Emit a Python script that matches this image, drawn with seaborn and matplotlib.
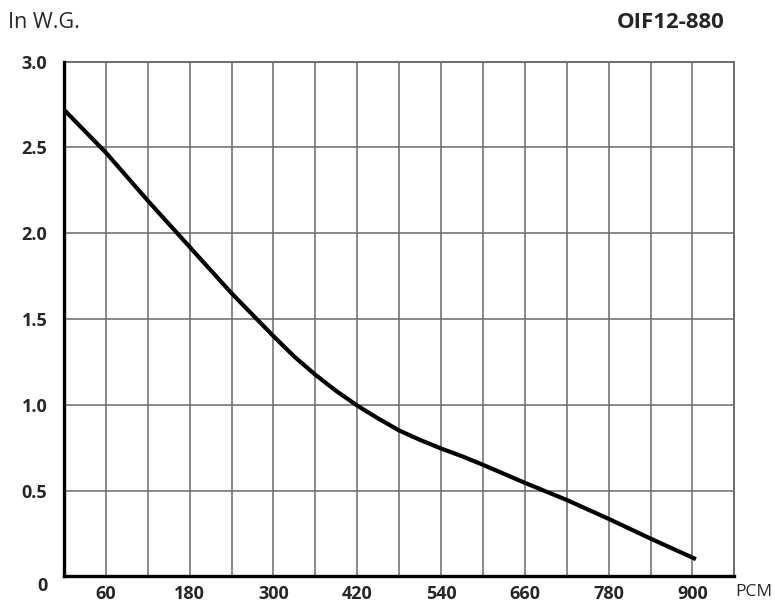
import matplotlib
matplotlib.use("Agg")
import matplotlib.pyplot as plt
import matplotlib.transforms as mtransforms
import seaborn as sns
import pandas as pd
import numpy as np


# airflow (PCM) vs static pressure (In W.G.)
airflow = [0, 60, 120, 180, 240, 276, 300, 330, 360, 390, 420, 450, 480, 510, 540,
           570, 600, 660, 720, 780, 840, 905]
pressure = [2.72, 2.47, 2.19, 1.92, 1.65, 1.50, 1.40, 1.28, 1.175, 1.08, 0.995, 0.92,
            0.85, 0.795, 0.745, 0.70, 0.65, 0.545, 0.445, 0.335, 0.22, 0.10]

x_ticks = [60, 180, 300, 420, 540, 660, 780, 900]
y_ticks = [0, 0.5, 1.0, 1.5, 2.0, 2.5, 3.0]
y_tick_labels = ["0", "0.5", "1.0", "1.5", "2.0", "2.5", "3.0"]
model_name = "OIF12-880"


def main():
    sns.set_style("white")
    plt.rcParams["font.family"] = ["Open Sans", "DejaVu Sans"]

    df = pd.DataFrame({"airflow": airflow, "pressure": pressure})

    fig = plt.figure(figsize=(7.75, 6.1), dpi=100)
    ax = fig.add_axes([64 / 775, 1 - 576.3 / 610, (734.3 - 64) / 775, (576.3 - 61.7) / 610])

    # grid every 60 PCM and every 0.5 In W.G.
    grid_col = "#6a6a6a"
    for gx in np.arange(60, 960, 60):
        ax.axvline(gx, color=grid_col, lw=1.1, zorder=1)
    for gy in np.arange(0.5, 3.0, 0.5):
        ax.axhline(gy, color=grid_col, lw=1.1, zorder=1)

    sns.lineplot(data=df, x="airflow", y="pressure", ax=ax, color="black",
                 lw=3.0, zorder=3, solid_capstyle="butt", solid_joinstyle="round")

    ax.set_xlim(0, 960)
    ax.set_ylim(0, 3.0)
    ax.set_xticks(x_ticks)
    ax.set_yticks(y_ticks)
    ax.set_yticklabels(y_tick_labels)
    ax.set_xlabel("")
    ax.set_ylabel("")
    ax.tick_params(axis="both", length=0, labelsize=13)
    ax.tick_params(axis="x", pad=6)
    ax.tick_params(axis="y", pad=12)
    for lab in ax.get_xticklabels() + ax.get_yticklabels():
        lab.set_fontweight("bold")

    # the "0" label sits a bit below the axis line
    zero_lab = ax.get_yticklabels()[0]
    zero_lab.set_transform(zero_lab.get_transform() +
                           mtransforms.ScaledTranslation(0, -8 / 100, fig.dpi_scale_trans))

    for side in ["left", "bottom"]:
        ax.spines[side].set_color("black")
        ax.spines[side].set_linewidth(2.4)
        ax.spines[side].set_zorder(4)
    for side in ["top", "right"]:
        ax.spines[side].set_color(grid_col)
        ax.spines[side].set_linewidth(1.4)

    fig.text(8 / 775, 1 - 22 / 610, "In W.G.", fontsize=15.5, ha="left", va="center")
    fig.text(725 / 775, 1 - 23 / 610, model_name, fontsize=16, fontweight="bold",
             ha="right", va="center")
    fig.text(735 / 775, 1 - 592 / 610, "PCM", fontsize=12.5, ha="left", va="center")

    fig.savefig("out.png", dpi=100, facecolor="white")


if __name__ == "__main__":
    main()
